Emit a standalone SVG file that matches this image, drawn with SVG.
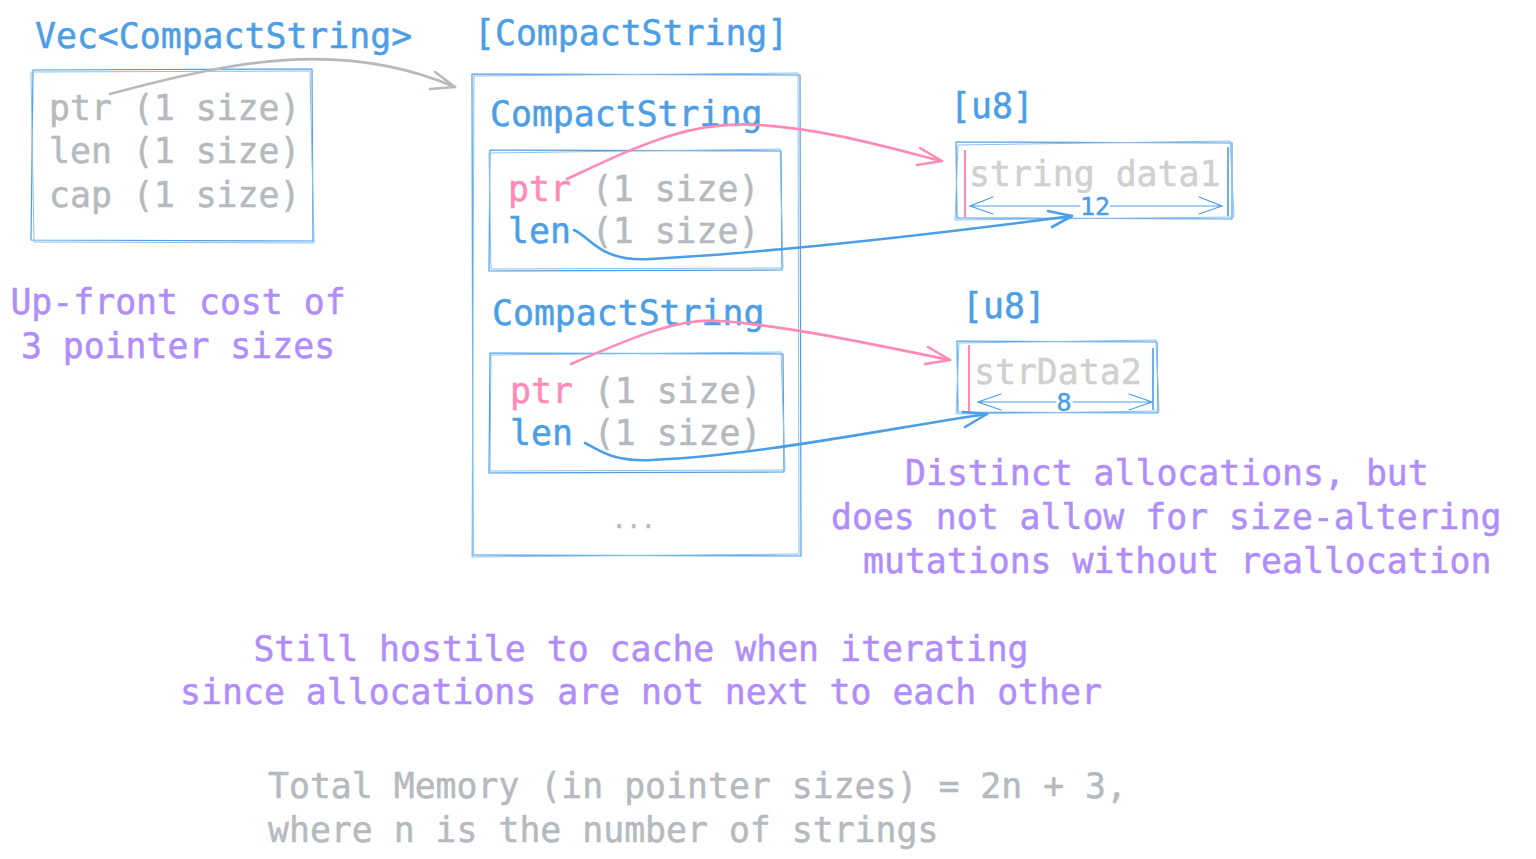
<svg xmlns="http://www.w3.org/2000/svg" width="1536" height="859" viewBox="0 0 1536 859">
<style>
text{font-family:"DejaVu Sans Mono","Liberation Mono",monospace;font-size:34.8px;stroke-width:0.5px}
.blue{fill:#4c9ee6;stroke:#4c9ee6}
.grey{fill:#b6babe;stroke:#b6babe}
.pink{fill:#ff8ab8;stroke:#ff8ab8}
.purple{fill:#b18dfc;stroke:#b18dfc}
.data{fill:#d0d0d0;stroke:#d0d0d0}
.box{fill:none;stroke:#4c9ee6;stroke-width:1.2;stroke-linejoin:round}
.box2{fill:none;stroke:#8cc0f0;stroke-width:1;stroke-linejoin:round}
.dim{fill:none;stroke:#4c9ee6;stroke-width:1.2;stroke-linecap:round}
.dimlbl{font-size:25px;fill:#4c9ee6;stroke:#4c9ee6;text-anchor:middle}
.dots{font-size:24px}
.c{fill:none;stroke-width:2.6;stroke-linecap:round;stroke-linejoin:round}
.cg{stroke:#b6babe}
.cp{stroke:#ff8ab8}
.cb{stroke:#4c9ee6}
</style>
<rect width="1536" height="859" fill="#ffffff"/>

<g id="vec">
<text class="blue" x="35" y="48">Vec&lt;CompactString&gt;</text>
<path class="box" d="M33 70 L312 69 L313 241 L31 240 Z"/>
<path class="box2" d="M31 72 L310 71 L314 243 L34 242 Z"/>
<text class="grey" x="49" y="120">ptr (1 size)</text>
<text class="grey" x="49" y="163">len (1 size)</text>
<text class="grey" x="49" y="207">cap (1 size)</text>
</g>

<g id="upfront">
<text class="purple" x="178" y="314" text-anchor="middle">Up-front cost of</text>
<text class="purple" x="178" y="358" text-anchor="middle">3 pointer sizes</text>
</g>

<g id="slice">
<text class="blue" x="474" y="45">[CompactString]</text>
<path class="box" d="M472 74 L800 75 L801 556 L473 555 Z"/>
<path class="box2" d="M474 76 L798 73 L799 554 L472 557 Z"/>
<text class="grey dots" x="612" y="528">...</text>
</g>

<g id="cs1">
<text class="blue" x="490" y="126">CompactString</text>
<path class="box" d="M490 150 L781 151 L782 270 L489 271 Z"/>
<path class="box2" d="M489 153 L780 149 L783 268 L491 269 Z"/>
<text x="508" y="201"><tspan class="pink">ptr</tspan><tspan class="grey"> (1 size)</tspan></text>
<text x="508" y="243"><tspan class="blue">len</tspan><tspan class="grey"> (1 size)</tspan></text>
</g>

<g id="cs2">
<text class="blue" x="492" y="325">CompactString</text>
<path class="box" d="M490 353 L783 354 L784 472 L489 473 Z"/>
<path class="box2" d="M491 355 L781 352 L785 470 L490 471 Z"/>
<text x="510" y="403"><tspan class="pink">ptr</tspan><tspan class="grey"> (1 size)</tspan></text>
<text x="510" y="445"><tspan class="blue">len</tspan><tspan class="grey"> (1 size)</tspan></text>
</g>

<g id="u8a">
<text class="blue" x="950" y="118">[u8]</text>
<path class="box" d="M956 142 L1232 143 L1232 219 L957 218 Z"/>
<path class="box2" d="M958 145 L1230 141 L1234 217 L955 220 Z"/>
<line x1="965" y1="150" x2="965" y2="218" stroke="#ff8ab8" stroke-width="2"/>
<line x1="1228" y1="147" x2="1228" y2="216" stroke="#4c9ee6" stroke-width="1.6"/>
<text class="data" x="969" y="186">string data1</text>
<path class="dim" d="M970 206 L1080 206 M1110 206 L1222 206 M993 197 L970 206 L993 214 M1199 197 L1222 206 L1199 214"/>
<text class="dimlbl" x="1095" y="215">12</text>
</g>

<g id="u8b">
<text class="blue" x="962" y="318">[u8]</text>
<path class="box" d="M957 341 L1157 342 L1158 413 L958 412 Z"/>
<path class="box2" d="M959 343 L1156 340 L1159 411 L956 414 Z"/>
<line x1="969" y1="345" x2="969" y2="412" stroke="#ff8ab8" stroke-width="2"/>
<line x1="1153" y1="348" x2="1153" y2="410" stroke="#4c9ee6" stroke-width="1.6"/>
<text class="data" x="974" y="384">strData2</text>
<path class="dim" d="M978 402 L1056 402 M1073 402 L1152 402 M1001 394 L978 402 L1001 410 M1129 394 L1152 402 L1129 410"/>
<text class="dimlbl" x="1064" y="411">8</text>
</g>

<g id="distinct">
<text class="purple" x="905" y="485">Distinct allocations, but</text>
<text class="purple" x="831" y="529">does not allow for size-altering</text>
<text class="purple" x="863" y="573">mutations without reallocation</text>
</g>

<g id="hostile">
<text class="purple" x="641" y="661" text-anchor="middle">Still hostile to cache when iterating</text>
<text class="purple" x="641" y="704" text-anchor="middle">since allocations are not next to each other</text>
</g>

<g id="total">
<text class="grey" x="268" y="798">Total Memory (in pointer sizes) = 2n + 3,</text>
<text class="grey" x="268" y="842">where n is the number of strings</text>
</g>

<g id="connectors">
<path class="c cg" d="M110 94 C 230 62, 340 38, 455 87"/>
<path class="c cg" d="M435 72 L455 87 L430 89"/>
<path class="c cp" d="M567 179 C 640 145, 690 120, 760 125 C 830 130, 885 147, 942 161"/>
<path class="c cp" d="M920 148 L942 161 L917 165"/>
<path class="c cp" d="M571 364 C 640 334, 680 318, 720 321 C 790 326, 880 346, 950 360"/>
<path class="c cp" d="M928 347 L950 360 L925 364"/>
<path class="c cb" d="M574 230 C 592 238, 600 262, 650 259 C 780 252, 950 232, 1072 216"/>
<path class="c cb" d="M1048 211 L1072 216 L1052 227"/>
<path class="c cb" d="M585 443 C 600 450, 612 462, 652 460 C 760 455, 880 430, 987 414"/>
<path class="c cb" d="M963 412 L987 414 L965 427"/>
</g>
</svg>
